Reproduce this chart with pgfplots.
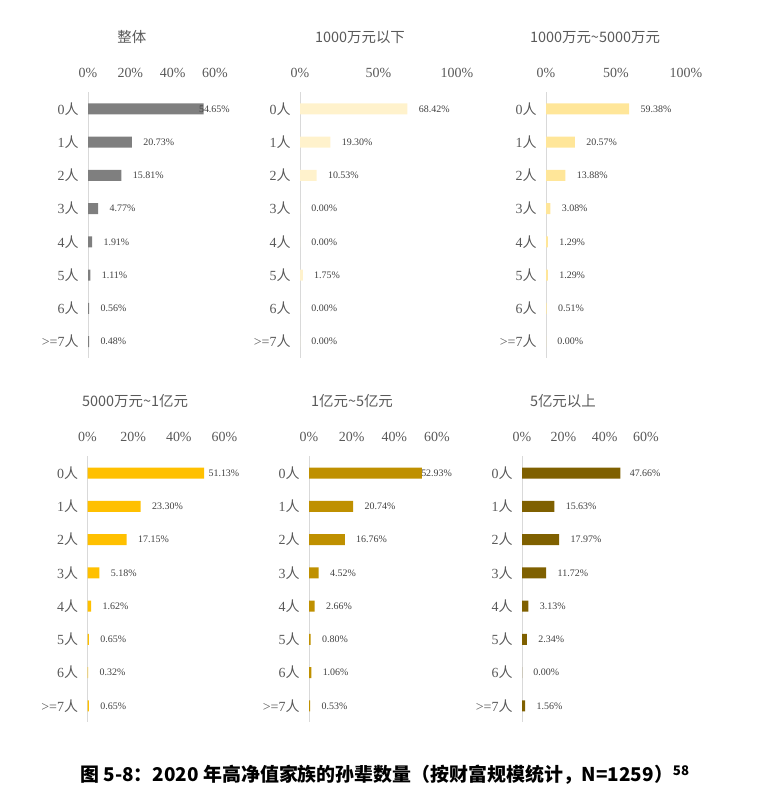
\documentclass[border=0pt]{standalone}
\usepackage{pgfplots}
\pgfplotsset{compat=1.18}
\usepackage{fontspec}
\setmainfont{Liberation Serif}
\newfontfamily\cjk{Noto Sans CJK SC}
\newcommand\ren{{\cjk 人}}

\definecolor{axgray}{HTML}{D9D9D9}
\definecolor{labgray}{HTML}{595959}
\definecolor{datgray}{HTML}{404040}
\definecolor{cAll}{HTML}{7F7F7F}
\definecolor{cA}{HTML}{FFF2CC}
\definecolor{cB}{HTML}{FFE699}
\definecolor{cC}{HTML}{FFC000}
\definecolor{cD}{HTML}{BF9000}
\definecolor{cE}{HTML}{7F6000}

\pgfplotsset{
  panel/.style={
    xbar, scale only axis, height=266bp,
    ymin=-0.5, ymax=7.5, y dir=reverse,
    ytick={0,...,7},
    yticklabels={0\ren,1\ren,2\ren,3\ren,4\ren,5\ren,6\ren,>=7\ren},
    xmin=0,
    axis x line*=top, axis y line*=left,
    x axis line style={draw=none},
    y axis line style={draw=axgray, line width=0.8bp},
    major tick length=0pt,
    tick label style={font=\fontsize{14}{14}\selectfont, text=labgray},
    xticklabel={\pgfmathprintnumber{\tick}\%},
    /pgf/number format/assume math mode=true,
    xticklabel style={anchor=center, yshift=19bp},
    yticklabel style={xshift=-6bp},
    bar width=11bp,
    point meta=x,
    visualization depends on={x \as \rawx},
    nodes near coords={\pgfmathprintnumber[fixed,fixed zerofill,precision=2]{\pgfplotspointmeta}\%},
    nodes near coords style={font=\fontsize{10}{10}\selectfont, text=datgray, anchor=west},
    every axis title/.style={anchor=center, yshift=55bp, font=\cjk\fontsize{14.5}{14.5}\selectfont, text=labgray},
    clip=false,
  },
  % labels are kept inside the plot area, as in the original
  clamp/.style 2 args={nodes near coords style={xshift={min(8,(#1-\rawx)*#2)}}},
}

\begin{document}
\begin{tikzpicture}
\path[use as bounding box] (0,0) rectangle (761bp,-806bp);

% top row
\begin{axis}[panel, at={(88bp,-92.3bp)}, anchor=north west,
  width=127bp, xmax=60, xtick={0,20,40,60}, clamp={50.78}{2.117},
  title={整体}, title style={at={(axis description cs:0.346,1)}}]
  \addplot[fill=cAll, draw=none] coordinates {
    (54.65,0) (20.73,1) (15.81,2) (4.77,3) (1.91,4) (1.11,5) (0.56,6) (0.48,7)};
\end{axis}

\begin{axis}[panel, at={(300bp,-92.3bp)}, anchor=north west,
  width=157bp, xmax=100, xtick={0,50,100}, clamp={200}{1.57},
  title={1000万元以下}, title style={at={(axis description cs:0.382,1)}}]
  \addplot[fill=cA, draw=none] coordinates {
    (68.42,0) (19.30,1) (10.53,2) (0,3) (0,4) (1.75,5) (0,6) (0,7)};
\end{axis}

\begin{axis}[panel, at={(546bp,-92.3bp)}, anchor=north west,
  width=140bp, xmax=100, xtick={0,50,100}, clamp={200}{1.4},
  title={1000万元\textasciitilde5000万元}, title style={at={(axis description cs:0.35,1)}}]
  \addplot[fill=cB, draw=none] coordinates {
    (59.38,0) (20.57,1) (13.88,2) (3.08,3) (1.29,4) (1.29,5) (0.51,6) (0,7)};
\end{axis}

% bottom row
\begin{axis}[panel, at={(87.5bp,-456.4bp)}, anchor=north west,
  width=137bp, xmax=60, xtick={0,20,40,60}, clamp={51.48}{2.283},
  title={5000万元\textasciitilde1亿元}, title style={at={(axis description cs:0.347,1)}}]
  \addplot[fill=cC, draw=none] coordinates {
    (51.13,0) (23.30,1) (17.15,2) (5.18,3) (1.62,4) (0.65,5) (0.32,6) (0.65,7)};
\end{axis}

\begin{axis}[panel, at={(309bp,-456.4bp)}, anchor=north west,
  width=128bp, xmax=60, xtick={0,20,40,60}, clamp={50.96}{2.133},
  title={1亿元\textasciitilde5亿元}, title style={at={(axis description cs:0.336,1)}}]
  \addplot[fill=cD, draw=none] coordinates {
    (52.93,0) (20.74,1) (16.76,2) (4.52,3) (2.66,4) (0.80,5) (1.06,6) (0.53,7)};
\end{axis}

\begin{axis}[panel, at={(522bp,-456.4bp)}, anchor=north west,
  width=124bp, xmax=60, xtick={0,20,40,60}, clamp={50.46}{2.067},
  title={5亿元以上}, title style={at={(axis description cs:0.33,1)}}]
  \addplot[fill=cE, draw=none] coordinates {
    (47.66,0) (15.63,1) (17.97,2) (11.72,3) (3.13,4) (2.34,5) (0,6) (1.56,7)};
\end{axis}

\node[font=\cjk\bfseries\fontsize{19}{19}\selectfont, text=black] at (385bp,-775bp)
  {图 5-8：2020 年高净值家族的孙辈数量（按财富规模统计，N=1259）\textsuperscript{58}};
\end{tikzpicture}
\end{document}
